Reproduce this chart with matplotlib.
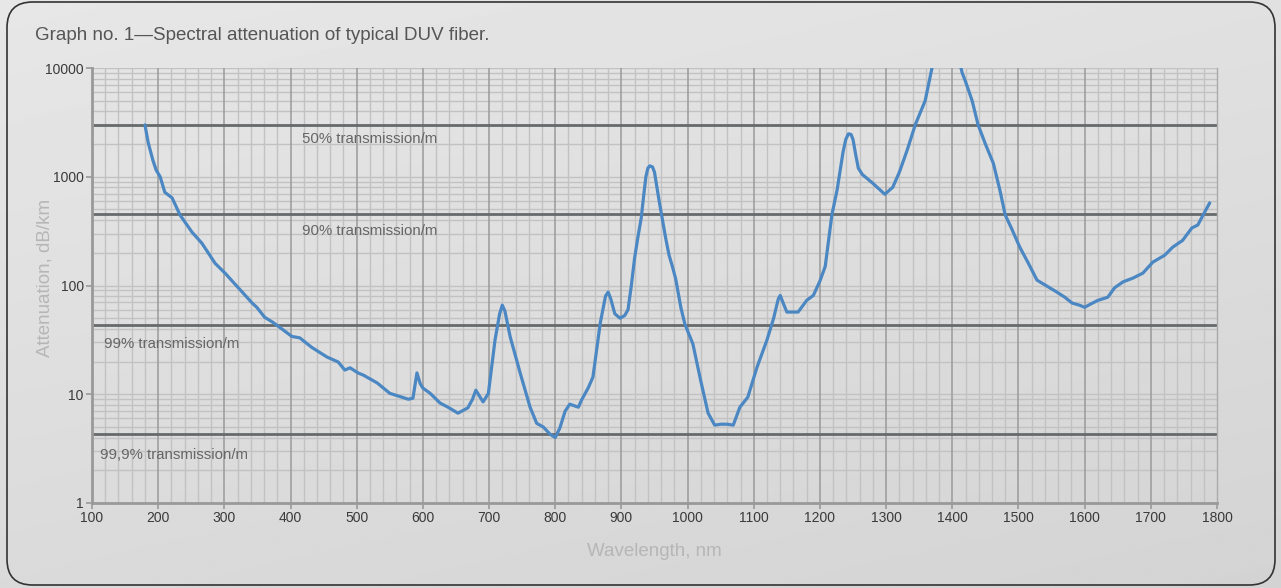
import numpy as np
import matplotlib
matplotlib.use("Agg")
import matplotlib.pyplot as plt
from matplotlib.patches import FancyBboxPatch
from matplotlib.ticker import FixedLocator, FixedFormatter

# ---------------- data ----------------
wavelength = [180, 185, 192, 197, 203, 210, 221, 233, 251, 266, 286, 301, 324, 342, 349,
              361, 373, 389, 402, 414, 432, 455, 472, 482, 490, 502, 510, 531, 550, 568,
              578, 585, 591, 596, 600, 611, 626, 638, 653, 668, 675, 680, 686, 691, 699,
              709, 716, 720, 724, 732, 747, 762, 772, 782, 792, 800, 807, 815, 822, 835, 840, 850,
              857, 868, 876, 880, 884, 890, 898, 905, 910, 915, 920, 925, 930, 934, 937, 940, 943,
              947, 950, 953, 957, 962, 967, 972, 977, 982, 990, 996, 1008, 1020, 1031, 1041,
              1050, 1060, 1069, 1079, 1091, 1105, 1120, 1130, 1137, 1140, 1144, 1150, 1167,
              1180, 1190, 1200, 1208, 1218, 1226, 1235, 1239, 1243, 1247, 1250, 1254, 1258,
              1264, 1280, 1298, 1310, 1320, 1332, 1344, 1359, 1366, 1372, 1380, 1400, 1410,
              1415, 1420, 1430, 1439, 1450, 1462, 1472, 1480, 1490, 1502, 1515, 1528, 1545,
              1558, 1570, 1581, 1592, 1600, 1610, 1620, 1635, 1645, 1658, 1673, 1688, 1703,
              1721, 1733, 1748, 1762, 1771, 1779, 1789]
attenuation = [3000, 2050, 1420, 1150, 1000, 720, 640, 445, 310, 245, 160, 130, 91, 69, 63,
               51, 46, 39, 34, 33, 27, 22, 19.8, 16.7, 17.5, 15.7, 15, 12.7, 10.2, 9.4,
               9.0, 9.2, 15.7, 12.5, 11.4, 10.2, 8.3, 7.6, 6.7, 7.5, 9.0, 10.9, 9.5, 8.5, 10.2,
               31.5, 55, 66, 58, 33.6, 15.7, 7.6, 5.4, 5.0, 4.3, 4.0, 4.9, 7.0, 8.1, 7.6, 8.9, 11.5,
               14.4, 45, 80, 87, 75, 55, 50, 53, 60, 100, 180, 280, 420, 700, 1000, 1200, 1260,
               1230, 1100, 850, 600, 400, 270, 190, 150, 115, 62, 44, 29, 13.2, 6.7, 5.2,
               5.3, 5.3, 5.2, 7.6, 9.4, 17.8, 31.6, 50, 75, 81, 70, 57, 57,
               73, 81, 110, 150, 445, 760, 1700, 2200, 2480, 2450, 2200, 1600, 1200,
               1050, 870, 690, 800, 1100, 1770, 3000, 5000, 8000, 12000, 20000, 20000, 12000,
               9000, 7500, 5000, 3000, 2000, 1330, 750, 445, 330, 225, 160, 112, 97,
               87, 78, 69, 66, 63, 68, 73, 78, 95, 108, 117, 130, 164,
               190, 225, 260, 338, 360, 445, 575]

transmission_levels = [3010, 457.6, 43.6, 4.345]
transmission_labels = ["50% transmission/m", "90% transmission/m",
                       "99% transmission/m", "99,9% transmission/m"]
label_positions_x = [418, 418, 118, 112]

x_ticks = list(range(100, 1801, 100))
y_ticks = [1, 10, 100, 1000, 10000]
y_tick_labels = ["1", "10", "100", "1000", "10000"]

# ---------------- figure ----------------
W, H = 1281, 588
fig = plt.figure(figsize=(W / 100, H / 100), dpi=100)
plt.rcParams['font.family'] = ['Liberation Sans', 'DejaVu Sans']

# gradient background
bg = fig.add_axes([0, 0, 1, 1], zorder=-10)
yy, xx = np.mgrid[0:1:200j, 0:1:400j]
grad = 0.905 - 0.05 * yy - 0.025 * xx
bg.imshow(grad, cmap='gray', vmin=0, vmax=1, extent=[0, 1, 0, 1], aspect='auto',
          origin='upper', interpolation='bilinear')
bg.set_xlim(0, 1)
bg.set_ylim(0, 1)
bg.axis('off')
box = FancyBboxPatch((7 / W, 3 / H), (1275 - 7) / W, (586 - 3) / H,
                     boxstyle="round,pad=0,rounding_size=0.02",
                     transform=bg.transAxes, fill=False, edgecolor='#333333',
                     linewidth=1.2, mutation_aspect=W / H)
bg.add_patch(box)

left, right, top, bottom = 92, 1217, 68, 503
ax = fig.add_axes([left / W, 1 - bottom / H, (right - left) / W, (bottom - top) / H])
ax.set_facecolor('none')
ax.set_yscale('log')
ax.set_xlim(100, 1800)
ax.set_ylim(1, 10000)

# grid
minor_x = [v for v in range(100, 1801, 20) if v % 100 != 0]
for v in minor_x:
    ax.axvline(v, color='#c2c2c2', lw=1.0, zorder=1)
for v in x_ticks[1:-1]:
    ax.axvline(v, color='#9a9a9a', lw=1.1, zorder=1.5)
for dec in [1, 10, 100, 1000]:
    for m in range(2, 10):
        ax.axhline(dec * m, color='#c2c2c2', lw=1.0, zorder=1)
for v in [10, 100, 1000, 10000]:
    ax.axhline(v, color='#c2c2c2', lw=1.0, zorder=1)

# transmission lines (label offsets below line, in pixels)
label_offsets_px = [14, 17, 19, 21]
decade_px = (bottom - top) / 4.0
for lvl, lab, lx, off in zip(transmission_levels, transmission_labels,
                             label_positions_x, label_offsets_px):
    ax.axhline(lvl, color='#666a6b', lw=2.0, zorder=2)
    ax.text(lx, lvl / 10 ** (off / decade_px), lab, fontsize=10.8, color='#666666',
            va='center', ha='left', zorder=3)

ax.plot(wavelength, attenuation, color='#4b87c2', lw=2.3, zorder=4,
        solid_joinstyle='round', solid_capstyle='round')

# spines
ax.spines['top'].set_visible(False)
ax.spines['right'].set_color('#aaaaaa')
ax.spines['right'].set_linewidth(1.0)
ax.spines['left'].set_color('#999999')
ax.spines['left'].set_linewidth(2.0)
ax.spines['bottom'].set_color('#999999')
ax.spines['bottom'].set_linewidth(2.0)

ax.xaxis.set_major_locator(FixedLocator(x_ticks))
ax.set_xticklabels([str(v) for v in x_ticks])
ax.xaxis.set_minor_locator(FixedLocator([]))
ax.yaxis.set_major_locator(FixedLocator(y_ticks))
ax.yaxis.set_major_formatter(FixedFormatter(y_tick_labels))
ax.yaxis.set_minor_locator(FixedLocator([]))
ax.tick_params(axis='both', which='major', direction='out', length=4, width=1.2,
               color='#999999', labelcolor='#3a3a3a', labelsize=10, pad=2)

ax.set_xlabel("Wavelength, nm", fontsize=13.5, color='#b6b6b6', va='center')
ax.xaxis.set_label_coords(0.5, -(552 - bottom) / (bottom - top))
ax.set_ylabel("Attenuation, dB/km", fontsize=13.5, color='#b6b6b6', va='center')
ax.yaxis.set_label_coords((45 - left) / (right - left), (503 - 278) / (bottom - top))

fig.text(35 / W, 1 - 35 / H, "Graph no. 1\u2014Spectral attenuation of typical DUV fiber.",
         fontsize=13.5, color='#555555', ha='left', va='center')

fig.savefig("out.png", dpi=100)
